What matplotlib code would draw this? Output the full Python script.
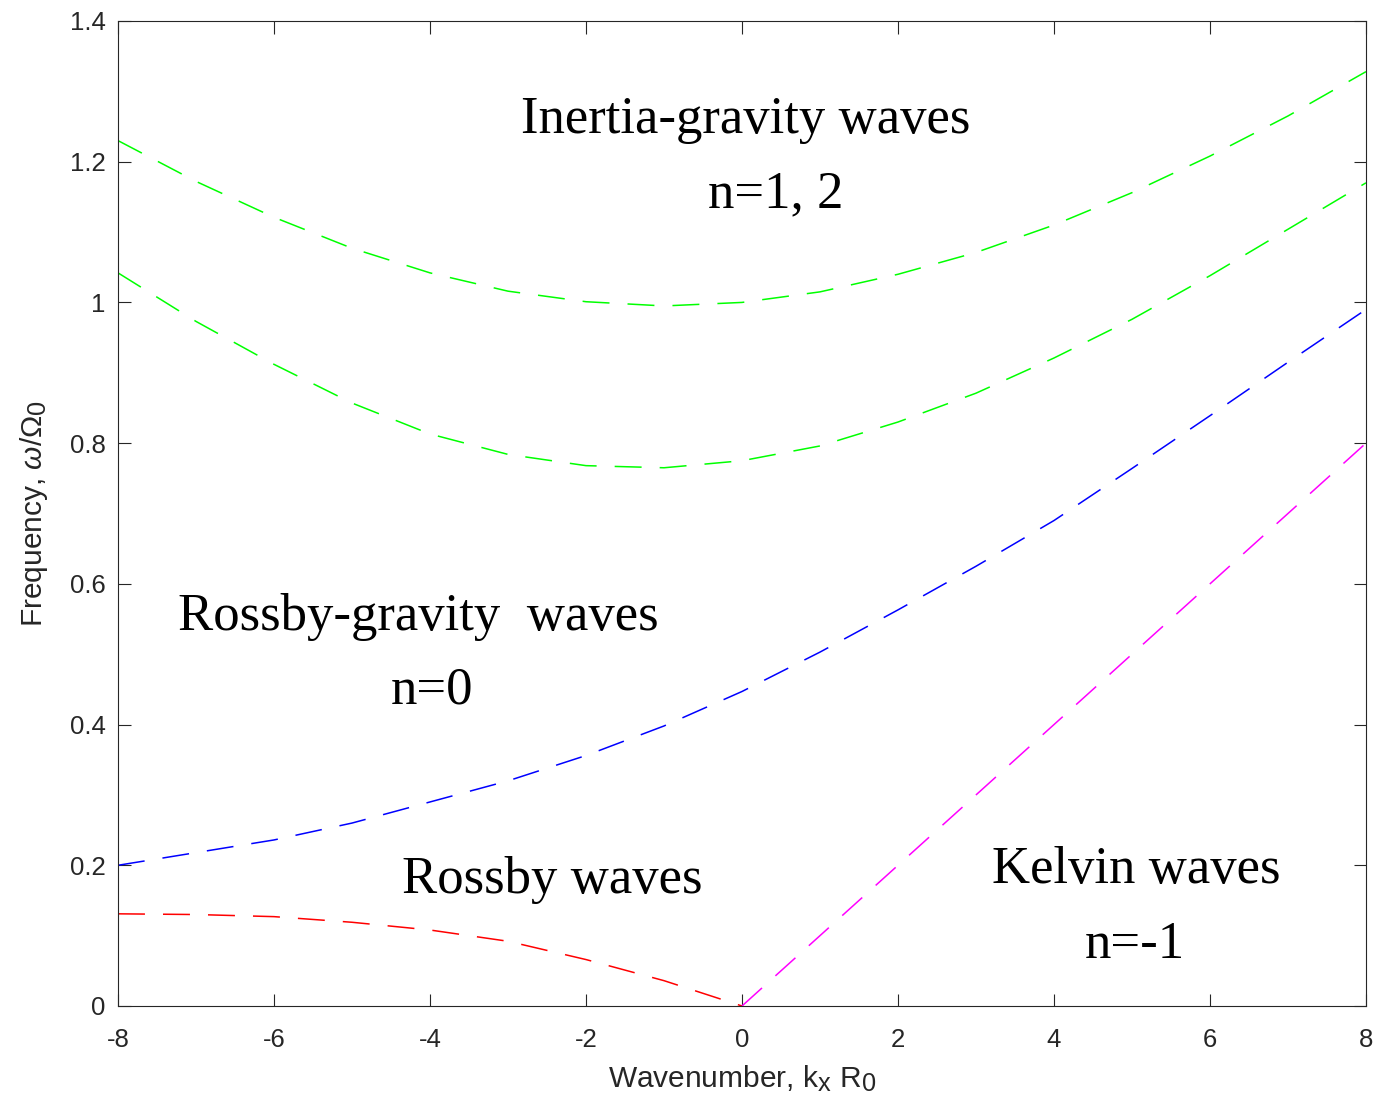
import matplotlib
matplotlib.use("Agg")
import matplotlib.pyplot as plt
try:
    import matplotlib._mathtext as _mt
    _mt.SHRINK_FACTOR = 0.85
except Exception:
    pass

plt.rcParams['font.family'] = ['Liberation Sans', 'DejaVu Sans']
plt.rcParams['axes.unicode_minus'] = False
plt.rcParams['mathtext.fontset'] = 'custom'
plt.rcParams['mathtext.rm'] = 'Liberation Sans'
plt.rcParams['mathtext.it'] = 'Liberation Sans:italic'
plt.rcParams['lines.scale_dashes'] = False

# ---- data ----
k = [-8, -7, -6, -5, -4, -3, -2, -1, 0, 1, 2, 3, 4, 5, 6, 7, 8]
ig_upper = [1.230, 1.172, 1.121, 1.077, 1.042, 1.016, 1.001, 0.995, 1.000,
            1.015, 1.040, 1.071, 1.110, 1.156, 1.208, 1.265, 1.328]
ig_lower = [1.042, 0.973, 0.912, 0.857, 0.813, 0.784, 0.768, 0.765, 0.775,
            0.796, 0.830, 0.871, 0.921, 0.976, 1.038, 1.104, 1.170]
rossby_gravity = [0.200, 0.218, 0.236, 0.260, 0.290, 0.320, 0.356, 0.398, 0.447,
                  0.503, 0.563, 0.625, 0.690, 0.764, 0.839, 0.915, 0.990]
k_rossby = [-8, -7, -6, -5, -4, -3, -2, -1, 0]
rossby = [0.131, 0.130, 0.127, 0.119, 0.108, 0.092, 0.066, 0.036, 0.000]
k_kelvin = [0, 2, 4, 6, 8]
kelvin = [0.0, 0.2, 0.4, 0.6, 0.8]

xticks = [-8, -6, -4, -2, 0, 2, 4, 6, 8]
xticklabels = ['-8', '-6', '-4', '-2', '0', '2', '4', '6', '8']
yticks = [0, 0.2, 0.4, 0.6, 0.8, 1.0, 1.2, 1.4]
yticklabels = ['0', '0.2', '0.4', '0.6', '0.8', '1', '1.2', '1.4']

fig = plt.figure(figsize=(13.77, 11.05), dpi=100)
ax = fig.add_axes([0.0857, 0.0896, 0.9063, 0.8914])

dash = (19.4, 13.0)
ax.plot(k, ig_upper, color=(0, 1, 0), lw=1.1, dashes=dash)
ax.plot(k, ig_lower, color=(0, 1, 0), lw=1.1, dashes=dash)
ax.plot(k, rossby_gravity, color=(0, 0, 1), lw=1.1, dashes=dash)
ax.plot(k_rossby, rossby, color=(1, 0, 0), lw=1.1, dashes=dash)
ax.plot(k_kelvin, kelvin, color=(1, 0, 1), lw=1.1, dashes=dash)

ax.set_xlim(-8, 8)
ax.set_ylim(0, 1.4)
ax.set_xticks(xticks)
ax.set_xticklabels(xticklabels)
ax.set_yticks(yticks)
ax.set_yticklabels(yticklabels)

axcol = '#262626'
for s in ax.spines.values():
    s.set_linewidth(0.8)
    s.set_color(axcol)
ax.tick_params(direction='in', length=9, width=0.8, color=axcol,
               labelcolor=axcol, labelsize=18.5, top=True, right=True)
ax.tick_params(axis='x', pad=16)
ax.tick_params(axis='y', pad=9)

ax.set_xlabel(r'Wavenumber, $\mathrm{k_x\ R_0}$', fontsize=21.5, color=axcol, labelpad=8)
ax.set_ylabel(r'Frequency, $\omega/\Omega_0$', fontsize=21.5, color=axcol, labelpad=14)

tfont = dict(family=['Liberation Serif', 'DejaVu Serif'], fontsize=38, color='black',
             ha='center', va='baseline')
ax.text(0.05, 1.2406, 'Inertia-gravity waves', **tfont)
ax.text(0.43, 1.1353, 'n=1, 2', **tfont)
ax.text(-4.15, 0.535, 'Rossby-gravity  waves', **tfont)
ax.text(-3.97, 0.4297, 'n=0', **tfont)
ax.text(-2.43, 0.1603, 'Rossby waves', **tfont)
ax.text(5.06, 0.1755, 'Kelvin waves', **tfont)
ax.text(5.04, 0.0688, 'n=-1', **tfont)

fig.savefig('out.png', dpi=100)
